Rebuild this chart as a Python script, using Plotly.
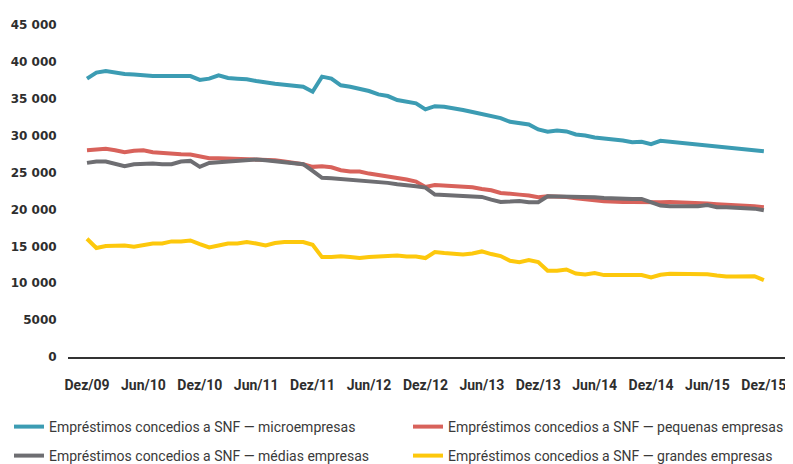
import plotly.graph_objects as go

months = list(range(73))
tick_positions = [0, 6, 12, 18, 24, 30, 36, 42, 48, 54, 60, 66, 72]
tick_labels = ["Dez/09", "Jun/10", "Dez/10", "Jun/11", "Dez/11", "Jun/12", "Dez/12",
               "Jun/13", "Dez/13", "Jun/14", "Dez/14", "Jun/15", "Dez/15"]
y_tick_values = [0, 5000, 10000, 15000, 20000, 25000, 30000, 35000, 40000, 45000]
y_tick_labels = ["0", "5000", "10 000", "15 000", "20 000", "25 000", "30 000",
                 "35 000", "40 000", "45 000"]

micro = [37730, 38550, 38770, 38550, 38360, 38300, 38180, 38080, 38080, 38080, 38080, 38080,
         37550, 37730, 38180, 37820, 37730, 37640, 37410, 37180, 37040, 36900, 36730, 36640,
         35960, 38000, 37730, 36820, 36640, 36370, 36050, 35600, 35370, 34830, 34650, 34380,
         33560, 34000, 33920, 33740, 33470, 33200, 32930, 32650, 32380, 31880, 31650, 31520,
         30840, 30530, 30710, 30570, 30160, 30030, 29760, 29570, 29480, 29350, 29120, 29170,
         28850, 29300, 29170, 29030, 28900, 28900, 28760, 28580, 28440, 28260, 28120, 27990,
         27900]
pequenas = [28030, 28120, 28220, 28030, 27760, 27940, 28030, 27760, 27630, 27580, 27490, 27450,
            27220, 26950, 26950, 26900, 26900, 26900, 26860, 26770, 26680, 26490, 26310, 26130,
            25770, 25860, 25720, 25320, 25140, 25140, 24860, 24680, 24410, 24230, 24050, 23780,
            23060, 23320, 23230, 23230, 23140, 23000, 22780, 22600, 22240, 22190, 22010, 21880,
            21650, 21780, 21780, 21700, 21510, 21420, 21240, 21100, 21010, 21010, 21010, 20970,
            20880, 20970, 21010, 20970, 20920, 20920, 20790, 20700, 20650, 20560, 20470, 20430,
            20290]
medias = [26310, 26490, 26490, 26130, 25860, 26130, 26220, 26220, 26130, 26130, 26490, 26580,
          25770, 26310, 26400, 26490, 26580, 26680, 26770, 26680, 26490, 26400, 26270, 26130,
          25230, 24280, 24230, 24140, 24050, 23960, 23820, 23780, 23600, 23410, 23320, 23140,
          22960, 22010, 21970, 21920, 21780, 21780, 21700, 21330, 21010, 21060, 21150, 20970,
          20970, 21780, 21780, 21780, 21700, 21780, 21650, 21560, 21470, 21420, 21420, 21420,
          20970, 20520, 20430, 20430, 20430, 20430, 20610, 20290, 20290, 20200, 20070, 20110,
          19880]
grandes = [16030, 14770, 15040, 15040, 15120, 14950, 15220, 15390, 15390, 15670, 15670, 15800,
           15310, 14860, 15120, 15390, 15390, 15580, 15390, 15120, 15440, 15580, 15580, 15580,
           15220, 13540, 13540, 13670, 13540, 13410, 13540, 13630, 13630, 13760, 13630, 13630,
           13410, 14220, 14090, 14040, 13900, 14040, 14310, 13950, 13680, 13040, 12860, 13130,
           12860, 11680, 11680, 11860, 11320, 11180, 11370, 11100, 11100, 11100, 11100, 11100,
           10770, 11140, 11280, 11280, 11280, 11280, 11230, 11050, 10910, 10910, 10910, 10960,
           10420]

series_names = ["Empréstimos concedios a SNF — microempresas",
                "Empréstimos concedios a SNF — pequenas empresas",
                "Empréstimos concedios a SNF — médias empresas",
                "Empréstimos concedios a SNF — grandes empresas"]
series_values = [micro, pequenas, medias, grandes]
colors = ["#3c9cb3", "#d8625b", "#6e6e72", "#fdc80c"]
legend_ids = ["legend", "legend2", "legend3", "legend4"]

fig = go.Figure()
for name, vals, col, lg in zip(series_names, series_values, colors, legend_ids):
    fig.add_trace(go.Scatter(x=months, y=vals, mode="lines", name=name,
                             line=dict(color=col, width=4), legend=lg))

# The page body has an 8px default margin; size the figure to fill the rest of the window.
OFF = 8
W, H = 793 - OFF, 464 - OFF
L, R, T, B = 68 - OFF, 0, 25 - OFF, 464 - 357
pw = W - L - R
ph = H - T - B

def page_to_paper_x(px):
    return (px - OFF - L) / pw

def page_to_paper_y(py):
    return (H - B - (py - OFF)) / ph

legend_font = dict(family="Roboto, sans-serif", size=14, color="#3a3a3a")
legend_pos = [(9, 427), (408, 427), (9, 456), (408, 456)]
layout_legends = {}
for lg, (lx, ly) in zip(legend_ids, legend_pos):
    layout_legends[lg] = dict(x=page_to_paper_x(lx), y=page_to_paper_y(ly), xanchor="left",
                              yanchor="middle", orientation="h", font=legend_font,
                              bgcolor="rgba(0,0,0,0)", borderwidth=0)

fig.update_layout(
    width=W, height=H,
    margin=dict(l=L, r=R, t=T, b=B, pad=0, autoexpand=False),
    paper_bgcolor="white", plot_bgcolor="white",
    showlegend=True,
    **layout_legends,
    xaxis=dict(range=[-2.02, 75.1], tickvals=tick_positions, ticktext=tick_labels,
               showgrid=False, zeroline=False, showline=True, linecolor="#333333",
               linewidth=1.5, ticks="outside", ticklen=14, tickcolor="rgba(0,0,0,0)",
               automargin=False,
               tickfont=dict(family="Roboto", size=14, color="#2e2e2e", weight="bold")),
    yaxis=dict(range=[0, 45000], tickvals=y_tick_values, ticktext=y_tick_labels,
               showgrid=False, zeroline=False, showline=False,
               ticks="outside", ticklen=8, tickcolor="rgba(0,0,0,0)",
               automargin=False,
               tickfont=dict(family="DejaVu Sans", size=12, color="#2e2e2e", weight="bold")),
)

fig.write_html("out.html")
